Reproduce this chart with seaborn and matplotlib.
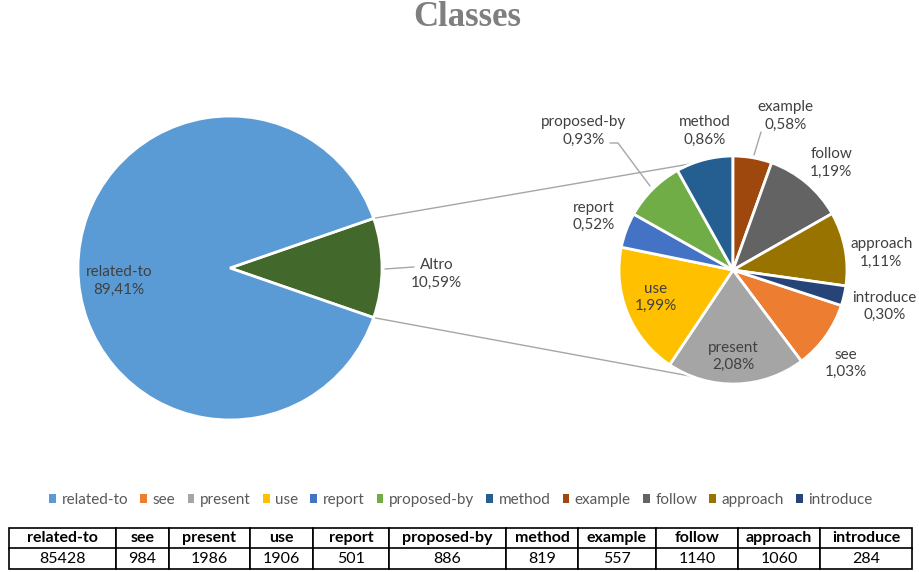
import matplotlib
matplotlib.use("Agg")
import matplotlib.pyplot as plt
from matplotlib.patches import Patch
import numpy as np
import seaborn as sns

# ---------------- data ----------------
classes = ["related-to", "see", "present", "use", "report", "proposed-by",
           "method", "example", "follow", "approach", "introduce"]
counts = [85428, 984, 1986, 1906, 501, 886, 819, 557, 1140, 1060, 284]
main_label = "related-to"
other_label = "Altro"
colors = ["#5B9BD5", "#ED7D31", "#A5A5A5", "#FFC000", "#4472C4", "#70AD47",
          "#255E91", "#9E480E", "#636363", "#997300", "#264478"]
other_color = "#43682B"
title = "Classes"

sns.set_theme(style="white")
plt.rcParams["font.family"] = ["Lato", "DejaVu Sans"]

W, H = 920, 572
fig = plt.figure(figsize=(W / 100, H / 100), dpi=100)
ax = fig.add_axes([0, 0, 1, 1])

total = sum(counts)
main_val = counts[0]
sub_names = classes[1:]
sub_vals = counts[1:]
sub_cols = colors[1:]
other_val = sum(sub_vals)

def pct(v):
    return f"{v / total * 100:.2f}".replace(".", ",") + "%"

def Y(ypx):
    return H - ypx

text_col = "#404040"

# ---------------- left pie ----------------
c1 = (230, Y(268)); r1 = 152
half1 = other_val / total * 180
w1, _ = ax.pie([other_val, main_val], colors=[other_color, colors[0]],
               startangle=-half1, counterclock=True, center=c1, radius=r1,
               wedgeprops=dict(edgecolor="white", linewidth=2))

# ---------------- right pie ----------------
c2 = (733, Y(270)); r2 = 114
# example starts at the top, running clockwise
idx_example = sub_names.index("example")
before = sum(sub_vals[idx_example:])
start2 = 90 - before / other_val * 360
w2, _ = ax.pie(sub_vals, colors=sub_cols, startangle=start2, counterclock=False,
               center=c2, radius=r2,
               wedgeprops=dict(edgecolor="white", linewidth=2))

ax.set_xlim(0, W)
ax.set_ylim(0, H)
ax.set_aspect("equal")
ax.axis("off")

# ---------------- connector lines ----------------
con_col = "#A6A6A6"
for sgn in (1, -1):
    a1 = np.deg2rad(sgn * half1)
    a2 = np.deg2rad(sgn * 111)
    p1 = (c1[0] + r1 * np.cos(a1), c1[1] + r1 * np.sin(a1))
    p2 = (c2[0] + r2 * np.cos(a2), c2[1] + r2 * np.sin(a2))
    ax.plot([p1[0], p2[0]], [p1[1], p2[1]], color=con_col, lw=1, zorder=0)

# ---------------- labels ----------------
fs = 11
ax.text(c1[0] - 0.73 * r1, c1[1] - 0.085 * r1, f"{main_label}\n{pct(main_val)}",
        ha="center", va="center", fontsize=fs, color=text_col, linespacing=1.3)
ax.text(c1[0] + 1.36 * r1, c1[1] - 0.04 * r1, f"{other_label}\n{pct(other_val)}",
        ha="center", va="center", fontsize=fs, color=text_col, linespacing=1.3)
ax.plot([c1[0] + r1 + 3, c1[0] + r1 + 32], [c1[1] - 1, c1[1] + 1], color=con_col, lw=1)

label_pos = {
    "example": (0.46, 1.35), "follow": (0.86, 0.94), "approach": (1.30, 0.15),
    "introduce": (1.33, -0.32), "see": (0.99, -0.82), "present": (0.0, -0.76),
    "use": (-0.68, -0.24), "report": (-1.22, 0.47), "proposed-by": (-1.31, 1.22),
    "method": (-0.25, 1.22),
}
for name, v in zip(sub_names, sub_vals):
    dx, dy = label_pos[name]
    ax.text(c2[0] + dx * r2, c2[1] + dy * r2, f"{name}\n{pct(v)}",
            ha="center", va="center", fontsize=fs, color=text_col, linespacing=1.3)

# leader lines
ax.plot([754, 761], [Y(155), Y(132)], color=con_col, lw=1)
ax.plot([610, 618, 650], [Y(143), Y(143), Y(186)], color=con_col, lw=1)

# ---------------- title ----------------
fig.text(467 / W, 1 - 17 / H, title, ha="center", va="center", fontsize=25,
         fontweight="bold", color="#7F7F7F", family=["Liberation Serif"])

# ---------------- legend ----------------
handles = [Patch(facecolor=c, edgecolor="none") for c in colors]
leg = ax.legend(handles, classes, loc="center", bbox_to_anchor=(461 / W, 1 - 500 / H),
                ncol=len(classes), frameon=False, fontsize=11,
                handlelength=0.45, handleheight=0.45, handletextpad=0.35,
                columnspacing=0.8, borderaxespad=0)
for t in leg.get_texts():
    t.set_color("#595959")

# ---------------- table ----------------
edges = [9, 116, 169, 250, 313, 389, 506, 578, 656, 738, 820, 912]
tw = edges[-1] - edges[0]
col_w = [(edges[i + 1] - edges[i]) / W for i in range(len(edges) - 1)]
tab = ax.table(cellText=[[str(c) for c in counts]], colLabels=classes,
               colWidths=col_w, cellLoc="center",
               bbox=[edges[0] / W, (H - 569) / H, tw / W, 41 / H])
tab.auto_set_font_size(False)
for (r, c), cell in tab.get_celld().items():
    cell.set_edgecolor("black")
    cell.set_linewidth(1.2)
    cell.get_text().set_fontsize(11.5)
    cell.get_text().set_color("black")
    if r == 0:
        cell.get_text().set_fontweight("bold")

fig.savefig("out.png", dpi=100)
